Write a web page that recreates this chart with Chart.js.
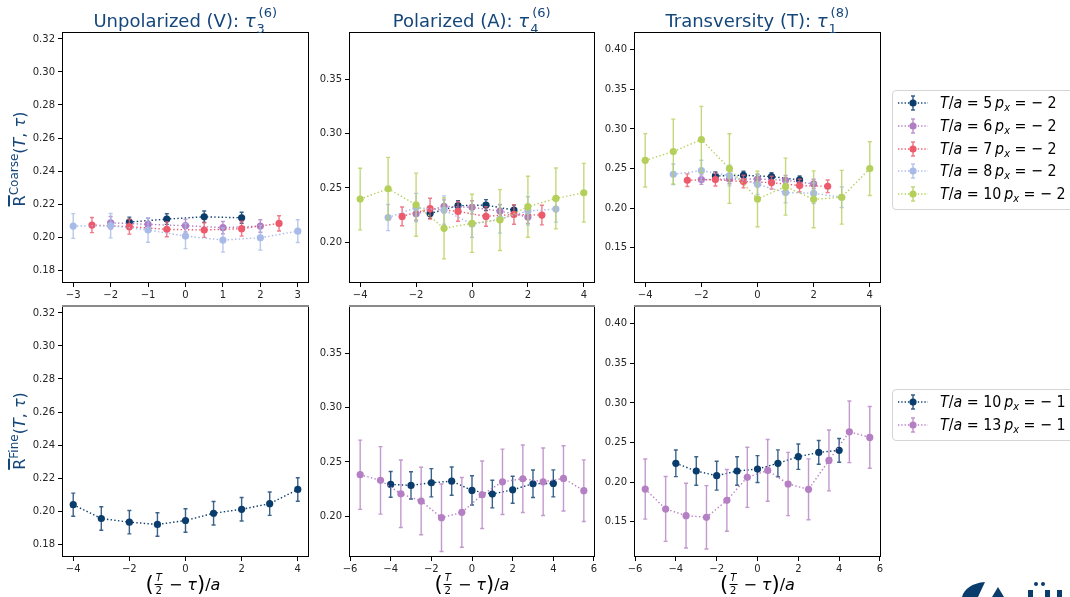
<!DOCTYPE html>
<html><head><meta charset="utf-8">
<script src="https://cdn.jsdelivr.net/npm/chart.js@4.4.1/dist/chart.umd.min.js"></script>
<style>
html,body{margin:0;padding:0;background:#fff;}
body{width:1070px;height:597px;position:relative;overflow:hidden;font-family:"DejaVu Sans",sans-serif;}
canvas{position:absolute;left:0;top:0;}
.title{position:absolute;top:9px;text-align:center;font-size:18px;line-height:24px;color:#14467a;white-space:nowrap;z-index:5}
.ss{display:inline-block;position:relative;width:22px;height:0;}
.sb{position:absolute;left:1px;bottom:-8px;font-size:13px;line-height:13px}
.sp{position:absolute;left:3px;bottom:8px;font-size:13px;line-height:13px}
.yl{position:absolute;transform:translate(-50%,-50%) rotate(-90deg);font-size:16px;line-height:20px;color:#14467a;white-space:nowrap;z-index:5}
.yl .ov{text-decoration:overline;text-decoration-thickness:1.5px}
.yl sup{font-size:12px;vertical-align:7px;line-height:0}
.xl{position:absolute;top:572px;transform:translateX(-50%);font-size:16px;color:#000;white-space:nowrap;display:flex;align-items:center;height:24px;z-index:5}
.bp{font-size:21px;line-height:24px;}
.fr{display:inline-flex;flex-direction:column;align-items:center;font-size:10px;line-height:10px;margin:0 1px}
.bar{width:8px;height:1px;background:#000;margin:1px 0}
.leg{position:absolute;left:892px;width:190px;border:1px solid #d5d5d5;border-radius:4px;background:rgba(255,255,255,0.9);z-index:5}
.row{position:absolute;left:0;height:22px;width:190px}
.row svg{position:absolute;left:4px;top:0}
.row span.lt{position:absolute;left:47px;top:0;font-size:16px;line-height:22px;color:#000;white-space:nowrap;transform:scaleX(0.89);transform-origin:0 50%}
.lt sub{font-size:11px;vertical-align:-3px;line-height:0}
</style></head><body>
<script>
// ---------------- DATA ----------------
const tauC5  = [-1.5,-0.5,0.5,1.5];
const tauC6  = [-2,-1,0,1,2];
const tauC7  = [-2.5,-1.5,-0.5,0.5,1.5,2.5];
const tauC8  = [-3,-2,-1,0,1,2,3];
const tauC10 = [-4,-3,-2,-1,0,1,2,3,4];
const tauF10 = [-4,-3,-2,-1,0,1,2,3,4];
const tauF13 = [-5.5,-4.5,-3.5,-2.5,-1.5,-0.5,0.5,1.5,2.5,3.5,4.5,5.5];

// Unpolarized (V), coarse
const vC5  = [0.2091,0.2109,0.2123,0.2117];
const vC5e = [0.0030,0.0032,0.0035,0.0033];
const vC6  = [0.2087,0.2077,0.2069,0.2057,0.2067];
const vC6e = [0.0038,0.0037,0.0038,0.0037,0.0038];
const vC7  = [0.2073,0.2063,0.2047,0.2043,0.2051,0.2083];
const vC7e = [0.0046,0.0045,0.0045,0.0045,0.0045,0.0046];
const vC8  = [0.2067,0.2069,0.2043,0.2006,0.1982,0.1996,0.2036];
const vC8e = [0.0075,0.0074,0.0074,0.0076,0.0073,0.0075,0.0069];
// Polarized (A), coarse
const aC5  = [0.2266,0.2337,0.2343,0.2297];
const aC5e = [0.0045,0.0045,0.0050,0.0045];
const aC6  = [0.2263,0.2331,0.2322,0.2288,0.2233];
const aC6e = [0.0060,0.0060,0.0060,0.0060,0.0060];
const aC7  = [0.2239,0.2310,0.2285,0.2239,0.2257,0.2251];
const aC7e = [0.0086,0.0095,0.0090,0.0090,0.0090,0.0090];
const aC8  = [0.2228,0.2320,0.2297,0.2168,0.2215,0.2289,0.2306];
const aC8e = [0.0120,0.0130,0.0130,0.0120,0.0130,0.0130,0.0120];
const aC10 = [0.2398,0.2493,0.2346,0.2129,0.2175,0.2205,0.2328,0.2404,0.2456];
const aC10e= [0.0283,0.0288,0.0290,0.0280,0.0267,0.0280,0.0280,0.0280,0.0270];
// Transversity (T), coarse
const tC5  = [0.2406,0.2415,0.2398,0.2356];
const tC5e = [0.0050,0.0050,0.0050,0.0050];
const tC6  = [0.2360,0.2368,0.2368,0.2352,0.2305];
const tC6e = [0.0060,0.0060,0.0060,0.0060,0.0060];
const tC7  = [0.2352,0.2360,0.2335,0.2322,0.2284,0.2276];
const tC7e = [0.0080,0.0080,0.0080,0.0080,0.0080,0.0080];
const tC8  = [0.2427,0.2474,0.2411,0.2301,0.2196,0.2187,0.2137];
const tC8e = [0.0130,0.0130,0.0130,0.0130,0.0130,0.0130,0.0130];
const tC10 = [0.2604,0.2714,0.2866,0.2499,0.2115,0.2271,0.2111,0.2137,0.2499];
const tC10e= [0.0337,0.0410,0.0420,0.0440,0.0350,0.0360,0.0360,0.0340,0.0340];
// Fine
const vF10 = [0.2039,0.1955,0.1933,0.1919,0.1943,0.1987,0.2011,0.2045,0.2131];
const vF10e= [0.0070,0.0071,0.0071,0.0071,0.0071,0.0071,0.0071,0.0071,0.0071];
const aF10 = [0.2294,0.2285,0.2309,0.2324,0.2239,0.2205,0.2245,0.2300,0.2303];
const aF10e= [0.0118,0.0125,0.0130,0.0130,0.0134,0.0127,0.0124,0.0126,0.0124];
const aF13 = [0.2383,0.2331,0.2208,0.2141,0.1988,0.2037,0.2199,0.2318,0.2346,0.2318,0.2349,0.2236];
const aF13e= [0.0318,0.0310,0.0310,0.0310,0.0310,0.0320,0.0310,0.0300,0.0310,0.0310,0.0300,0.0283];
const tF10 = [0.2237,0.2140,0.2081,0.2140,0.2165,0.2237,0.2321,0.2375,0.2401];
const tF10e= [0.0168,0.0180,0.0183,0.0180,0.0170,0.0170,0.0160,0.0150,0.0150];
const tF13 = [0.1912,0.1660,0.1576,0.1555,0.1769,0.2060,0.2148,0.1976,0.1908,0.2274,0.2636,0.2565];
const tF13e= [0.0380,0.0410,0.0410,0.0400,0.0390,0.0380,0.0390,0.0400,0.0385,0.0385,0.0390,0.0390];

// Tick labels
const yTicksV = [0.18,0.20,0.22,0.24,0.26,0.28,0.30,0.32];
const yTicksA = [0.20,0.25,0.30,0.35];
const yTicksT = [0.15,0.20,0.25,0.30,0.35,0.40];
const xTicksCoarseV = [-3,-2,-1,0,1,2,3];
const xTicksCoarse  = [-4,-2,0,2,4];
const xTicksFineV   = [-4,-2,0,2,4];
const xTicksFine    = [-6,-4,-2,0,2,4,6];

const legendCoarse = ["5","6","7","8","10"];
const legendFine = ["10","13"];
const pxCoarse = "2", pxFine = "1";

// ---------------- STYLE / LAYOUT ----------------
const col = {T5:'#0a3c6c', T6:'#b07cc4', T7:'#ec5a6c', T8:'#a8bae8', T10:'#b4d05a', T13:'#b57fc3'};
const W = 1070, H = 597, yW = 45, xH = 22;

function fmt(v, d){ return Number(v).toFixed(d).replace('-', '\u2212'); }

const errPlugin = {
  id:'errbars',
  beforeDatasetDraw(chart, args){
    const ds = chart.data.datasets[args.index];
    const meta = args.meta, ys = chart.scales.y, ctx = chart.ctx, a = chart.chartArea;
    ctx.save();
    ctx.beginPath(); ctx.rect(a.left, a.top, a.right-a.left, a.bottom-a.top); ctx.clip();
    ctx.strokeStyle = ds.errColor; ctx.globalAlpha = 0.8; ctx.lineWidth = 1.4;
    meta.data.forEach((pt, j) => {
      const v = ds.data[j].y, e = ds.err[j];
      const x = pt.x, y1 = ys.getPixelForValue(v+e), y2 = ys.getPixelForValue(v-e);
      ctx.beginPath();
      ctx.moveTo(x, y1); ctx.lineTo(x, y2);
      ctx.moveTo(x-2, y1); ctx.lineTo(x+2, y1);
      ctx.moveTo(x-2, y2); ctx.lineTo(x+2, y2);
      ctx.stroke();
    });
    ctx.restore();
  }
};
const framePlugin = {
  id:'frame',
  afterDatasetsDraw(chart){
    const a = chart.chartArea, ctx = chart.ctx;
    const l = Math.round(a.left)+0.5, t = Math.round(a.top)+0.5, r = Math.round(a.right)-0.5, b = Math.round(a.bottom)-0.5;
    ctx.save();
    ctx.strokeStyle = '#000'; ctx.lineWidth = 1;
    ctx.strokeRect(l, t, r-l, b-t);
    if (chart.options.greyTop){
      ctx.strokeStyle = '#8a8a8a'; ctx.lineWidth = 2;
      ctx.beginPath(); ctx.moveTo(l-0.5, Math.round(a.top)); ctx.lineTo(r+0.5, Math.round(a.top)); ctx.stroke();
    }
    ctx.restore();
  }
};

function makePanel(cfg){
  const c = document.createElement('canvas');
  c.width = W; c.height = H; document.body.appendChild(c);
  const n = cfg.series.length;
  const axisCommon = {
    grid:{display:true, drawOnChartArea:false, drawTicks:true, tickLength:4, tickColor:'#000', tickWidth:1, color:'#000', lineWidth:1},
    border:{display:false}
  };
  new Chart(c, {
    type:'line',
    data:{datasets: cfg.series.map((s,i)=>({
      data: s.x.map((x,j)=>({x:x, y:s.y[j]})),
      err: s.e, errColor: s.c,
      borderColor: s.c, backgroundColor: s.c,
      borderWidth: 1.4, borderDash:[1.4,2.3],
      pointRadius: 3.6, pointHoverRadius: 3.6, pointBorderWidth: 0,
      pointBackgroundColor: s.c, tension: 0, fill: false,
      order: n - i
    }))},
    options:{
      responsive:false, animation:false, events:[],
      greyTop: cfg.greyTop,
      layout:{padding:{left:cfg.box[0]-yW, top:cfg.box[1], right:W-cfg.box[2], bottom:H-cfg.box[3]-xH}},
      plugins:{legend:{display:false}, tooltip:{enabled:false}, title:{display:false}},
      scales:{
        x:Object.assign({type:'linear', min:cfg.xr[0], max:cfg.xr[1],
          afterBuildTicks: s=>{ s.ticks = cfg.xt.map(v=>({value:v})); },
          afterFit: s=>{ s.height = xH; },
          ticks:{color:'#262626', font:{family:'DejaVu Sans', size:10}, padding:2, maxRotation:0, minRotation:0, autoSkip:false, callback:v=>fmt(v,0)}
        }, axisCommon),
        y:Object.assign({type:'linear', min:cfg.yr[0], max:cfg.yr[1],
          afterBuildTicks: s=>{ s.ticks = cfg.yt.map(v=>({value:v})); },
          afterFit: s=>{ s.width = yW; },
          ticks:{color:'#262626', font:{family:'DejaVu Sans', size:10}, padding:3, autoSkip:false, callback:v=>fmt(v,2)}
        }, axisCommon)
      }
    },
    plugins:[errPlugin, framePlugin]
  });
}

const yrV = [0.1722, 0.3242], yrA = [0.1627, 0.3933], yrT = [0.1053, 0.4226];

makePanel({box:[62,32,309,283], xr:[-3.3,3.3], yr:yrV, xt:xTicksCoarseV, yt:yTicksV, series:[
  {x:tauC5,y:vC5,e:vC5e,c:col.T5},{x:tauC6,y:vC6,e:vC6e,c:col.T6},{x:tauC7,y:vC7,e:vC7e,c:col.T7},{x:tauC8,y:vC8,e:vC8e,c:col.T8}]});
makePanel({box:[349,32,595,283], xr:[-4.4,4.4], yr:yrA, xt:xTicksCoarse, yt:yTicksA, series:[
  {x:tauC5,y:aC5,e:aC5e,c:col.T5},{x:tauC6,y:aC6,e:aC6e,c:col.T6},{x:tauC7,y:aC7,e:aC7e,c:col.T7},{x:tauC8,y:aC8,e:aC8e,c:col.T8},{x:tauC10,y:aC10,e:aC10e,c:col.T10}]});
makePanel({box:[634,32,881,283], xr:[-4.4,4.4], yr:yrT, xt:xTicksCoarse, yt:yTicksT, series:[
  {x:tauC5,y:tC5,e:tC5e,c:col.T5},{x:tauC6,y:tC6,e:tC6e,c:col.T6},{x:tauC7,y:tC7,e:tC7e,c:col.T7},{x:tauC8,y:tC8,e:tC8e,c:col.T8},{x:tauC10,y:tC10,e:tC10e,c:col.T10}]});
makePanel({box:[62,306,309,557], xr:[-4.4,4.4], yr:yrV, xt:xTicksFineV, yt:yTicksV, greyTop:true, series:[
  {x:tauF10,y:vF10,e:vF10e,c:col.T5}]});
makePanel({box:[349,306,595,557], xr:[-6.05,6.05], yr:yrA, xt:xTicksFine, yt:yTicksA, greyTop:true, series:[
  {x:tauF10,y:aF10,e:aF10e,c:col.T5},{x:tauF13,y:aF13,e:aF13e,c:col.T13}]});
makePanel({box:[634,306,881,557], xr:[-6.05,6.05], yr:yrT, xt:xTicksFine, yt:yTicksT, greyTop:true, series:[
  {x:tauF10,y:tF10,e:tF10e,c:col.T5},{x:tauF13,y:tF13,e:tF13e,c:col.T13}]});

// ---------------- TEXT ----------------
function addHTML(html){ const d = document.createElement('div'); d.innerHTML = html; while(d.firstChild) document.body.appendChild(d.firstChild); }
addHTML('<div class="title" style="left:62px;width:247px">Unpolarized (V): <i>τ</i><span class="ss"><span class="sb">3</span><span class="sp">(6)</span></span></div>');
addHTML('<div class="title" style="left:349px;width:246px">Polarized (A): <i>τ</i><span class="ss"><span class="sb">4</span><span class="sp">(6)</span></span></div>');
addHTML('<div class="title" style="left:634px;width:247px">Transversity (T): <i>τ</i><span class="ss"><span class="sb">1</span><span class="sp">(8)</span></span></div>');
addHTML('<div class="yl" style="left:20px;top:159px"><span class="ov">R</span><sup>Coarse</sup>(<i>T</i>, <i>τ</i>)</div>');
addHTML('<div class="yl" style="left:20px;top:431px"><span class="ov">R</span><sup>Fine</sup>(<i>T</i>, <i>τ</i>)</div>');
[183, 472, 757.5].forEach(xc => addHTML('<div class="xl" style="left:'+xc+'px"><span class="bp">(</span><span class="fr"><i>T</i><span class="bar"></span><span>2</span></span><span>&nbsp;− <i>τ</i></span><span class="bp">)</span><span>/<i>a</i></span></div>'));

function legend(top, labels, colors, px){
  let h = '<div class="leg" style="top:'+top+'px;height:'+(labels.length*22.75+4)+'px">';
  labels.forEach((lab,i)=>{
    const c = colors[i];
    h += '<div class="row" style="top:'+(1+i*22.75)+'px"><svg width="36" height="22">'+
      '<line x1="1" y1="11" x2="31" y2="11" stroke="'+c+'" stroke-width="1.3" stroke-dasharray="1.3 2"/>'+
      '<g stroke="'+c+'" stroke-width="1.4" opacity="0.85"><line x1="16" y1="4" x2="16" y2="18"/><line x1="14" y1="4" x2="18" y2="4"/><line x1="14" y1="18" x2="18" y2="18"/></g>'+
      '<circle cx="16" cy="11" r="3.6" fill="'+c+'"/></svg>'+
      '<span class="lt"><i>T</i>/<i>a</i> = '+lab+'&thinsp;<i>p</i><sub><i>x</i></sub> = − '+px+'</span></div>';
  });
  h += '</div>';
  addHTML(h);
}
legend(90, legendCoarse, [col.T5,col.T6,col.T7,col.T8,col.T10], pxCoarse);
legend(389, legendFine, [col.T5,col.T13], pxFine);

addHTML('<svg style="position:absolute;left:950px;top:570px;z-index:5" width="120" height="27">'+
  '<path d="M12,27 C14,19 22,13 35,12 L28,27 Z" fill="#0a3c6c"/>'+
  '<path d="M42,27 L48,17 L54,27 Z" fill="#0a3c6c"/>'+
  '<rect x="78" y="20" width="5" height="7" fill="#0a3c6c"/><rect x="95" y="20" width="5" height="7" fill="#0a3c6c"/>'+
  '<circle cx="86" cy="14" r="2" fill="#0a3c6c"/><circle cx="93" cy="14" r="2" fill="#0a3c6c"/>'+
  '<rect x="107" y="20" width="5" height="7" fill="#0a3c6c"/></svg>');
</script>
</body></html>
